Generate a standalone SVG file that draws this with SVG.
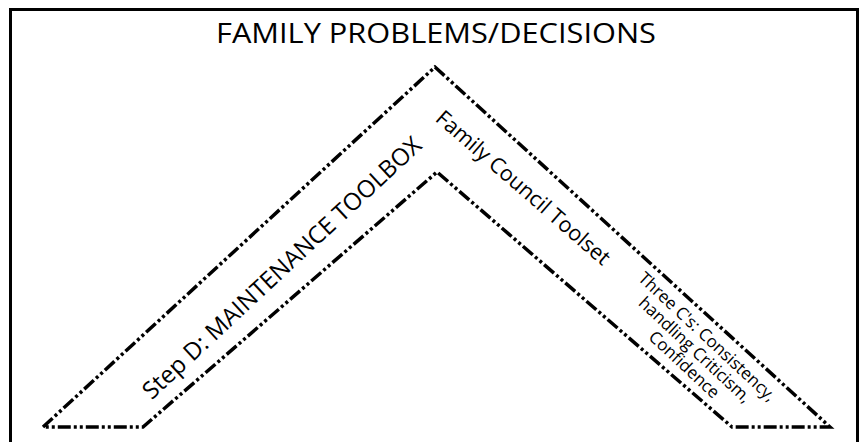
<svg xmlns="http://www.w3.org/2000/svg" width="859" height="442" viewBox="0 0 859 442">
<style>
.frame{fill:none;stroke:#000;stroke-width:3}
.chev{fill:none;stroke:#000;stroke-width:3.5;stroke-dasharray:13 3 3 3 3 3;stroke-linejoin:miter}
text{font-family:"Open Sans","Noto Sans","DejaVu Sans",sans-serif;fill:#000}
.title{font-size:28px;text-anchor:middle}
.arm{font-size:24px;text-anchor:middle}
.sub{font-size:21.5px;text-anchor:middle}
.small{font-size:17px;text-anchor:middle}
</style>
<rect width="859" height="442" fill="#fff"/>
<g id="frame">
<path class="frame" d="M10.5,442 V9.5 H857.5 V442"/>
</g>
<g id="title">
<text class="title" x="436" y="43" textLength="440" lengthAdjust="spacingAndGlyphs">FAMILY PROBLEMS/DECISIONS</text>
</g>
<g id="chevron">
<path class="chev" d="M43,427 L435,67 L830,427 L732,427 L437,172 L143,427 Z"/>
</g>
<g id="step-d">
<text class="arm" transform="translate(282,268) rotate(-43)" y="8">Step D: MAINTENANCE TOOLBOX</text>
</g>
<g id="family-council">
<text class="sub" transform="translate(523,188) rotate(41)" y="7">Family Council Toolset</text>
</g>
<g id="three-cs">
<text class="small" transform="translate(696,352) rotate(43)">
<tspan x="0" y="-13">Three C's: Consistency,</tspan>
<tspan x="0" y="5">handling Criticism,</tspan>
<tspan x="0" y="23">Confidence</tspan>
</text>
</g>
</svg>
